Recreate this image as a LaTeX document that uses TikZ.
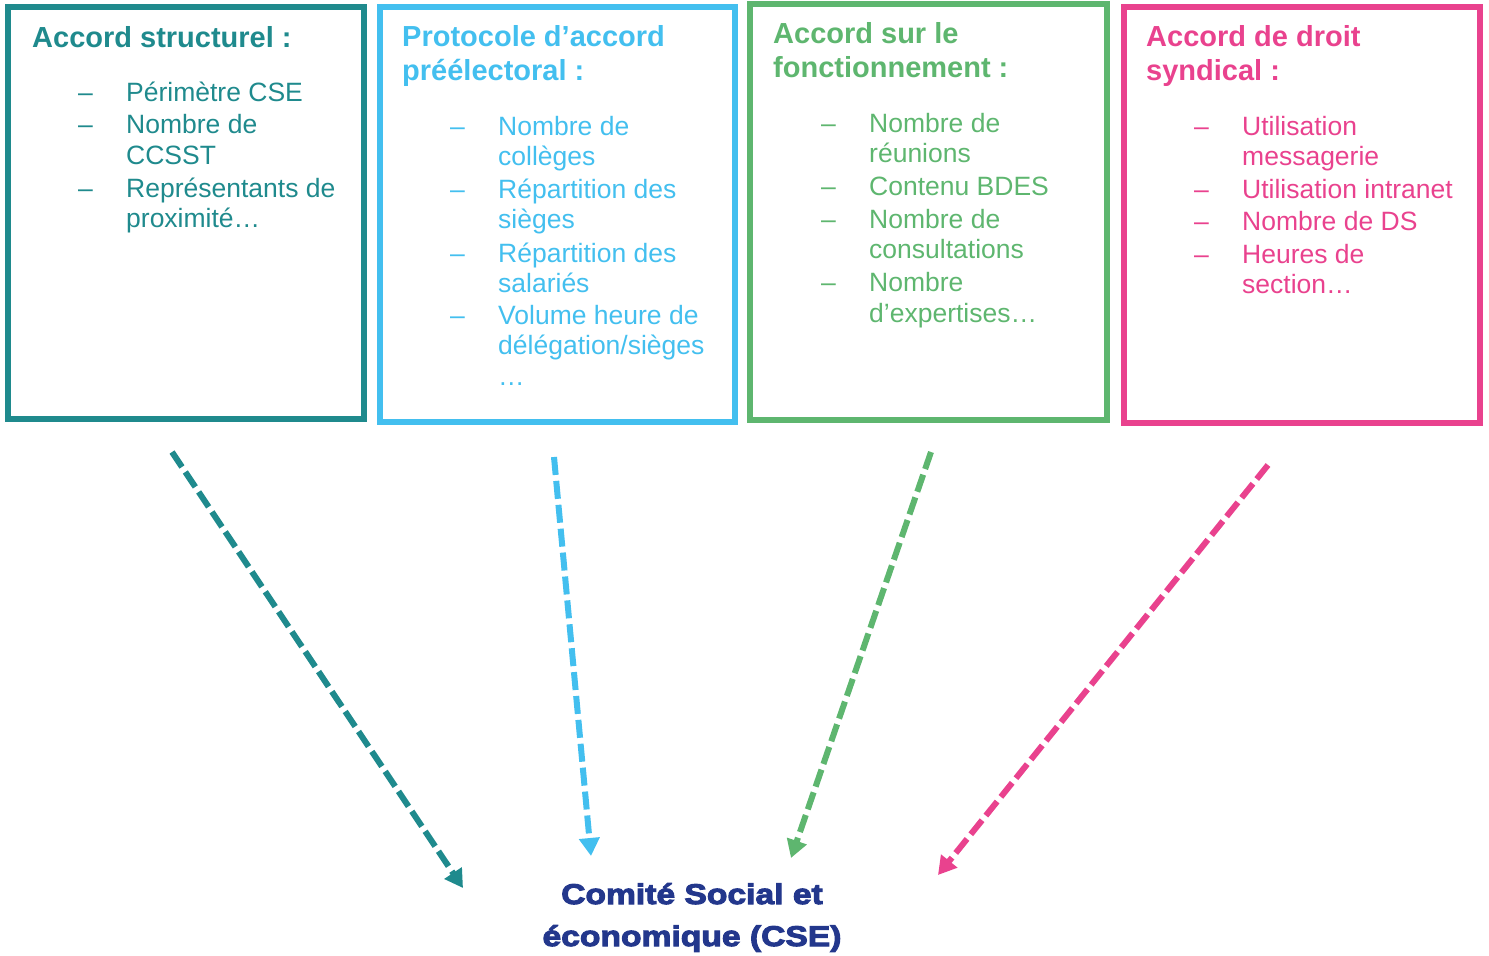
\documentclass[tikz,border=0pt]{standalone}
\usepackage{fontspec}
\setmainfont{Liberation Sans}
\newfontfamily\heavyfont{Liberation Sans}[BoldFeatures={FakeBold=3.6,FakeStretch=1.18}]
\usetikzlibrary{arrows.meta}
\definecolor{cteal}{RGB}{31,138,141}
\definecolor{cblue}{RGB}{67,191,239}
\definecolor{cgreen}{RGB}{94,182,111}
\definecolor{cpink}{RGB}{233,66,142}
\definecolor{cnavy}{RGB}{35,55,140}
\tikzset{
  box/.style={draw, line width=6pt, inner sep=0pt, outer sep=0pt},
  ttl/.style={anchor=base west, inner sep=0pt, font=\fontsize{29}{34}\selectfont\bfseries},
  txt/.style={anchor=base west, inner sep=0pt, font=\fontsize{26.5}{31.5}\selectfont},
  cse/.style={anchor=base, inner sep=0pt, text=cnavy, font=\heavyfont\fontsize{28.5}{34}\selectfont\bfseries},
  flow/.style={line width=6pt, dash pattern=on 18pt off 6pt, -{Triangle[length=18pt,width=20pt]}}
}
\begin{document}
\begin{tikzpicture}[x=1pt,y=-1pt]
\useasboundingbox (0,0) rectangle (1489,956);
% boxes
\node[box, draw=cteal, minimum width=356pt, minimum height=412pt] (b1) at (186,213) {};
\node[box, draw=cblue, minimum width=355pt, minimum height=415pt] (b2) at (557.5,214.5) {};
\node[box, draw=cgreen, minimum width=357pt, minimum height=416pt] (b3) at (928.5,212) {};
\node[box, draw=cpink, minimum width=356pt, minimum height=416pt] (b4) at (1302,215) {};
% box 1
\begin{scope}[every node/.append style={text=cteal}]
\node[ttl] (t1) at (32,47) {Accord structurel :};
\node[txt] (d1a) at (78,101) {–};
\node[txt] (d1b) at (78,133) {–};
\node[txt] (d1c) at (78,197) {–};
\node[txt] (i1a) at (126,101) {Périmètre CSE};
\node[txt] (i1b) at (126,133) {Nombre de};
\node[txt] (i1c) at (126,164) {CCSST};
\node[txt] (i1d) at (126,197) {Représentants de};
\node[txt] (i1e) at (126,227) {proximité…};
\end{scope}
% box 2
\begin{scope}[every node/.append style={text=cblue}]
\node[ttl] (t2a) at (402,46) {Protocole d’accord};
\node[ttl] (t2b) at (402,80) {préélectoral :};
\node[txt] (d2a) at (450,135) {–};
\node[txt] (d2b) at (450,198) {–};
\node[txt] (d2c) at (450,262) {–};
\node[txt] (d2d) at (450,324) {–};
\node[txt] (i2a) at (498,135) {Nombre de};
\node[txt] (i2b) at (498,165) {collèges};
\node[txt] (i2c) at (498,198) {Répartition des};
\node[txt] (i2d) at (498,228) {sièges};
\node[txt] (i2e) at (498,262) {Répartition des};
\node[txt] (i2f) at (498,292) {salariés};
\node[txt] (i2g) at (498,324) {Volume heure de};
\node[txt] (i2h) at (498,354) {délégation/sièges};
\node[txt] (i2i) at (498,385) {…};
\end{scope}
% box 3
\begin{scope}[every node/.append style={text=cgreen}]
\node[ttl] (t3a) at (773,43) {Accord sur le};
\node[ttl] (t3b) at (773,77) {fonctionnement :};
\node[txt] (d3a) at (821,132) {–};
\node[txt] (d3b) at (821,195) {–};
\node[txt] (d3c) at (821,228) {–};
\node[txt] (d3d) at (821,291) {–};
\node[txt] (i3a) at (869,132) {Nombre de};
\node[txt] (i3b) at (869,162) {réunions};
\node[txt] (i3c) at (869,195) {Contenu BDES};
\node[txt] (i3d) at (869,228) {Nombre de};
\node[txt] (i3e) at (869,258) {consultations};
\node[txt] (i3f) at (869,291) {Nombre};
\node[txt] (i3g) at (869,322) {d’expertises…};
\end{scope}
% box 4
\begin{scope}[every node/.append style={text=cpink}]
\node[ttl] (t4a) at (1146,46) {Accord de droit};
\node[ttl] (t4b) at (1146,80) {syndical :};
\node[txt] (d4a) at (1194,135) {–};
\node[txt] (d4b) at (1194,198) {–};
\node[txt] (d4c) at (1194,230) {–};
\node[txt] (d4d) at (1194,263) {–};
\node[txt] (i4a) at (1242,135) {Utilisation};
\node[txt] (i4b) at (1242,165) {messagerie};
\node[txt] (i4c) at (1242,198) {Utilisation intranet};
\node[txt] (i4d) at (1242,230) {Nombre de DS};
\node[txt] (i4e) at (1242,263) {Heures de};
\node[txt] (i4f) at (1242,293) {section…};
\end{scope}
% CSE
\node[cse] (c1) at (692,904) {Comité Social et};
\node[cse] (c2) at (692,946) {économique (CSE)};
% arrows
\coordinate (s1) at (172,452); \coordinate (e1) at (463,888);
\coordinate (s2) at (554,457); \coordinate (e2) at (591,856);
\coordinate (s3) at (931,452); \coordinate (e3) at (791,858);
\coordinate (s4) at (1268,465); \coordinate (e4) at (938,875);
\draw[flow, cteal] (s1) -- (e1);
\draw[flow, cblue] (s2) -- (e2);
\draw[flow, cgreen] (s3) -- (e3);
\draw[flow, cpink] (s4) -- (e4);
\end{tikzpicture}
\end{document}
